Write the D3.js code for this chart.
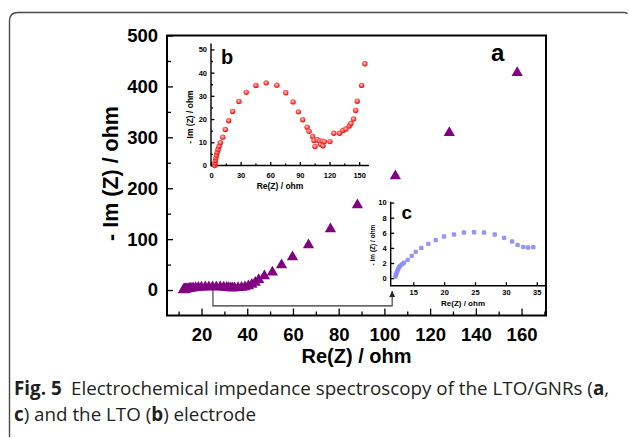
<!DOCTYPE html>
<html><head><meta charset="utf-8">
<script src="https://cdn.jsdelivr.net/npm/d3@7"></script>
<style>
html,body{margin:0;padding:0;background:#fff;}
svg{display:block;}
</style></head><body>
<svg id="chart" width="629" height="438"></svg>
<script>
// ---- data: LTO/GNRs electrode (main plot "a" and zoomed inset "c") ----
const gnrRe = [12.1,12.2,12.3,12.42,12.55,12.7,12.9,13.2,13.5,14.1,14.74,15.39,16.3,17.43,18.63,19.98,21.6,23.2,24.84,26.46,28.2,29.7,31.0,31.9,32.83,33.6,34.45,
  36.0,37.5,39.0,40.5,42.0,43.5,45.0,47.5,51.0,55.0,59.8,66.8,76.4,88.2,104.8,128.4,158.1];
const gnrIm = [0.2,0.45,0.7,0.95,1.2,1.45,1.65,1.85,2.05,2.42,2.95,3.48,4.0,4.54,5.03,5.5,5.77,6.03,6.08,6.03,5.77,5.33,4.84,4.4,4.14,4.05,4.1,
  4.5,5.0,6.0,8.0,11.0,15.0,20.0,27.6,35.0,49.0,65.0,88.6,120.0,167.0,224.0,309.0,427.0];
// ---- data: LTO electrode (inset "b") ----
const ltoRe = [3.8,4.1,4.5,5.0,5.6,6.3,7.2,8.2,9.5,11.9,14.5,17.9,21.9,28.3,35.7,45.5,55.9,66.6,75.7,83.1,88.5,92.9,97.3,99.3,103.0,104.3,105.3,107.6,110.0,111.0,112.7,113.4,114.7,120.4,124.4,130.2,133.6,136.6,140.0,141.7,144.4,146.5,148.1,152.5,155.8];
const ltoIm = [0.0,1.1,2.2,3.3,4.5,5.7,7.0,8.3,9.8,12.2,15.5,19.3,23.3,27.6,31.5,34.5,35.6,34.6,31.3,27.4,23.1,19.7,16.5,14.7,12.5,10.8,8.2,11.1,10.6,9.1,10.5,8.5,10.3,10.3,13.9,13.9,15.1,15.7,17.0,18.1,20.0,23.7,27.7,34.5,43.8];
// ---- tick labels ----
const mainXTicks = [20,40,60,80,100,120,140,160];
const mainXMinor = [10,30,50,70,90,110,130,150,170];
const mainYTicks = [0,100,200,300,400,500];
const mainYMinor = [50,150,250,350,450];
const ltoXTicks = [0,30,60,90,120,150];
const ltoXMinor = [15,45,75,105,135];
const ltoYTicks = [0,10,20,30,40,50];
const ltoYMinor = [5,15,25,35,45];
const gnrXTicks = [15,20,25,30,35];
const gnrYTicks = [0,2,4,6,8,10];
const gnrCut = 35;          // inset c shows the high-frequency part only
const zoomFrom = 25, zoomTo = 103.4;  // connector from main cluster to inset c

const svg = d3.select('#chart');
const AX = 'Liberation Sans, Arial, sans-serif';

// outer rounded frame
svg.append('path')
  .attr('d','M9.5,437 L9.5,21 Q9.5,12.5 18,12.5 L624,12.5 Q627,12.5 627,14')
  .attr('fill','none').attr('stroke','#4a4a4a').attr('stroke-width',1.4);

// ---------- main plot ----------
const x = d3.scaleLinear().domain([4.9,170.7]).range([167,546]);
const y = d3.scaleLinear().domain([-50,500]).range([315.5,35.5]);
const g = svg.append('g');

function styleAxis(sel, fs){
  sel.select('.domain').remove();
  sel.selectAll('line').attr('stroke','#000').attr('stroke-width',1.3);
  sel.selectAll('text').attr('font-family',AX).attr('font-weight','bold').attr('font-size',fs).attr('fill','#000');
}

g.append('g').attr('transform','translate(0,315.5)')
  .call(d3.axisBottom(x).tickValues(mainXTicks).tickSizeInner(-7).tickSizeOuter(0).tickPadding(12))
  .call(s=>styleAxis(s,18.5));
g.append('g').attr('transform','translate(0,315.5)')
  .call(d3.axisBottom(x).tickValues(mainXMinor).tickSizeInner(-4).tickSizeOuter(0).tickFormat(''))
  .call(s=>styleAxis(s,18.5));
g.append('g').attr('transform','translate(167,0)')
  .call(d3.axisLeft(y).tickValues(mainYTicks).tickSizeInner(-6).tickSizeOuter(0).tickPadding(9))
  .call(s=>styleAxis(s,18.5));
g.append('g').attr('transform','translate(167,0)')
  .call(d3.axisLeft(y).tickValues(mainYMinor).tickSizeInner(-4).tickSizeOuter(0).tickFormat(''))
  .call(s=>styleAxis(s,18.5));

g.append('rect').attr('x',x.range()[0]).attr('y',y.range()[1])
  .attr('width',x.range()[1]-x.range()[0]).attr('height',y.range()[0]-y.range()[1])
  .attr('fill','none').attr('stroke','#000').attr('stroke-width',2);

g.append('text').attr('x',(x.range()[0]+x.range()[1])/2).attr('y',362.5)
  .attr('text-anchor','middle').attr('font-family',AX).attr('font-weight','bold').attr('font-size',20)
  .text('Re(Z) / ohm');
g.append('text').attr('transform','translate(118,173.5) rotate(-90)')
  .attr('text-anchor','middle').attr('font-family',AX).attr('font-weight','bold').attr('font-size',21.5)
  .text('- Im (Z) / ohm');
g.append('text').attr('x',491).attr('y',60.5).attr('font-family',AX).attr('font-weight','bold').attr('font-size',24).text('a');

// connector arrow to inset c
svg.append('defs').append('marker').attr('id','ah').attr('viewBox','0 0 10 10')
  .attr('refX',10).attr('refY',5).attr('markerWidth',6).attr('markerHeight',8).attr('orient','auto')
  .attr('markerUnits','userSpaceOnUse')
  .append('path').attr('d','M0,0 L10,5 L0,10 Z').attr('fill','#222');
g.append('path')
  .attr('d',d3.line()([[x(zoomFrom),y(0)],[x(zoomFrom),y(-31)],[x(zoomTo),y(-31)],[x(zoomTo),y(-2)]]))
  .attr('fill','none').attr('stroke','#333').attr('stroke-width',1.1).attr('marker-end','url(#ah)');

// main triangles
const tri = d3.symbol().type(d3.symbolTriangle).size(55);
g.selectAll('path.tri').data(gnrRe.map((r,i)=>[r,gnrIm[i]])).join('path').attr('class','tri')
  .attr('d',tri).attr('transform',d=>`translate(${x(d[0])},${y(d[1])})`).attr('fill','#820082');

// ---------- inset b (LTO) ----------
const xb = d3.scaleLinear().domain([0,160]).range([211,369]);
const yb = d3.scaleLinear().domain([0,52.5]).range([165.5,43.6]);
const gb = svg.append('g');
gb.append('g').attr('transform','translate(0,165.5)')
  .call(d3.axisBottom(xb).tickValues(ltoXTicks).tickSizeInner(-3.5).tickSizeOuter(0).tickPadding(7))
  .call(s=>styleAxis(s,7.5));
gb.append('g').attr('transform','translate(0,165.5)')
  .call(d3.axisBottom(xb).tickValues(ltoXMinor).tickSizeInner(-2).tickSizeOuter(0).tickFormat(''))
  .call(s=>styleAxis(s,7.5));
gb.append('g').attr('transform','translate(211,0)')
  .call(d3.axisLeft(yb).tickValues(ltoYTicks).tickSizeInner(-3.5).tickSizeOuter(0).tickPadding(4))
  .call(s=>styleAxis(s,7.5));
gb.append('g').attr('transform','translate(211,0)')
  .call(d3.axisLeft(yb).tickValues(ltoYMinor).tickSizeInner(-2).tickSizeOuter(0).tickFormat(''))
  .call(s=>styleAxis(s,7.5));
gb.append('path').attr('d',d3.line()([[xb.range()[0],yb.range()[1]],[xb.range()[0],yb.range()[0]],[xb.range()[1],yb.range()[0]]]))
  .attr('fill','none').attr('stroke','#000').attr('stroke-width',1.4);
gb.append('text').attr('x',280).attr('y',188.5).attr('text-anchor','middle')
  .attr('font-family',AX).attr('font-weight','bold').attr('font-size',8.5).text('Re(Z) / ohm');
gb.append('text').attr('transform','translate(193,117) rotate(-90)').attr('text-anchor','middle')
  .attr('font-family',AX).attr('font-weight','bold').attr('font-size',8.5).text('- Im (Z) / ohm');
gb.append('text').attr('x',221).attr('y',63.5).attr('font-family',AX).attr('font-weight','bold').attr('font-size',20).text('b');

const grad = svg.select('defs').append('radialGradient').attr('id','rg').attr('cx','45%').attr('cy','40%').attr('r','60%');
grad.append('stop').attr('offset','0%').attr('stop-color','#ffd0d0');
grad.append('stop').attr('offset','55%').attr('stop-color','#ff5050');
grad.append('stop').attr('offset','100%').attr('stop-color','#ee0000');
gb.selectAll('circle').data(ltoRe.map((r,i)=>[r,ltoIm[i]])).join('circle')
  .attr('cx',d=>xb(d[0])).attr('cy',d=>yb(d[1])).attr('r',2.7).attr('fill','url(#rg)');

// ---------- inset c (LTO/GNRs, high frequency) ----------
const xc = d3.scaleLinear().domain([11.34,36.5]).range([390.7,546]);
const yc = d3.scaleLinear().domain([-1,10.1]).range([285.7,201.8]);
const gc = svg.append('g');
gc.append('g').attr('transform','translate(0,285.7)')
  .call(d3.axisBottom(xc).tickValues(gnrXTicks).tickSizeInner(-3.5).tickSizeOuter(0).tickPadding(4))
  .call(s=>styleAxis(s,7.5));
gc.append('g').attr('transform','translate(390.7,0)')
  .call(d3.axisLeft(yc).tickValues(gnrYTicks).tickSizeInner(-3.5).tickSizeOuter(0).tickPadding(4))
  .call(s=>styleAxis(s,7.5));
gc.append('path').attr('d',d3.line()([[xc.range()[0],yc.range()[1]],[xc.range()[0],yc.range()[0]],[xc.range()[1],yc.range()[0]]]))
  .attr('fill','none').attr('stroke','#000').attr('stroke-width',1.4);
gc.append('text').attr('x',463).attr('y',305.5).attr('text-anchor','middle')
  .attr('font-family',AX).attr('font-weight','bold').attr('font-size',8).text('Re(Z) / ohm');
gc.append('text').attr('transform','translate(375,245) rotate(-90)').attr('text-anchor','middle')
  .attr('font-family',AX).attr('font-weight','bold').attr('font-size',6.5).text('- Im (Z) / ohm');
gc.append('text').attr('x',401.5).attr('y',218.5).attr('font-family',AX).attr('font-weight','bold').attr('font-size',19).text('c');
gc.selectAll('rect.pt').data(gnrRe.map((r,i)=>[r,gnrIm[i]]).filter(d=>d[0]<=gnrCut)).join('rect').attr('class','pt')
  .attr('x',d=>xc(d[0])-2.2).attr('y',d=>yc(d[1])-2.2).attr('width',4.4).attr('height',4.4).attr('rx',1.2)
  .attr('fill','#8a8af5').attr('opacity',0.9);

// ---------- caption ----------
const CF = '"Open Sans", "Noto Sans", sans-serif';
const c1 = svg.append('text').attr('x',14).attr('y',395).attr('font-family',CF).attr('font-size',18.8).attr('fill','#231f20');
c1.append('tspan').attr('font-weight','bold').text('Fig. 5');
c1.append('tspan').text('\u2002Electrochemical impedance spectroscopy of the LTO/GNRs (');
c1.append('tspan').attr('font-weight','bold').text('a');
c1.append('tspan').text(',');
const c2 = svg.append('text').attr('x',14).attr('y',421).attr('font-family',CF).attr('font-size',18.8).attr('fill','#231f20');
c2.append('tspan').attr('font-weight','bold').text('c');
c2.append('tspan').text(') and the LTO (');
c2.append('tspan').attr('font-weight','bold').text('b');
c2.append('tspan').text(') electrode');
</script>
</body></html>
